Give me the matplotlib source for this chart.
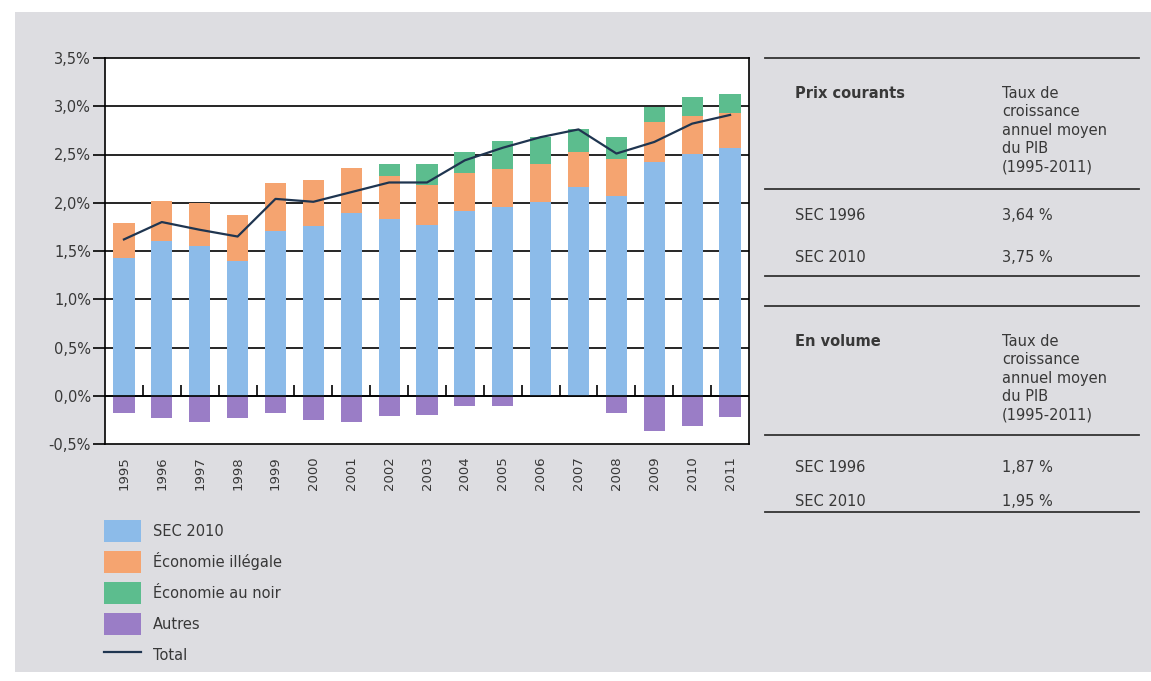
import matplotlib
matplotlib.use("Agg")
import matplotlib.pyplot as plt
from matplotlib.patches import Rectangle, Patch
from matplotlib.lines import Line2D
import numpy as np

plt.rcParams['font.family'] = ['DejaVu Sans']

# contributions to GDP growth, in %
years = [str(y) for y in range(1995, 2012)]
sec2010 = [1.43, 1.60, 1.55, 1.40, 1.71, 1.76, 1.89, 1.83, 1.77, 1.91, 1.96, 2.01, 2.16, 2.07, 2.42, 2.51, 2.57]
illegale = [0.36, 0.42, 0.45, 0.47, 0.49, 0.48, 0.47, 0.45, 0.41, 0.40, 0.39, 0.39, 0.37, 0.38, 0.42, 0.39, 0.36]
noir = [0.0, 0.0, 0.0, 0.0, 0.0, 0.0, 0.0, 0.12, 0.22, 0.22, 0.29, 0.28, 0.23, 0.23, 0.15, 0.20, 0.20]
autres = [-0.18, -0.23, -0.27, -0.23, -0.18, -0.25, -0.27, -0.21, -0.20, -0.11, -0.11, 0.0, 0.0, -0.18, -0.37, -0.31, -0.22]
total = [1.62, 1.80, 1.72, 1.65, 2.04, 2.01, 2.11, 2.21, 2.21, 2.44, 2.57, 2.68, 2.76, 2.51, 2.63, 2.82, 2.91]

legend_labels = ["SEC 2010", "Économie illégale", "Économie au noir", "Autres", "Total"]

# side table
table_prix = {"title": "Prix courants", "rows": [("SEC 1996", "3,64 %"), ("SEC 2010", "3,75 %")]}
table_vol = {"title": "En volume", "rows": [("SEC 1996", "1,87 %"), ("SEC 2010", "1,95 %")]}
col_header = "Taux de\ncroissance\nannuel moyen\ndu PIB\n(1995-2011)"

c_blue = "#8cbbe9"
c_orange = "#f5a470"
c_green = "#5cbd8e"
c_purple = "#9a7dc6"
c_line = "#1f3550"
c_text = "#383838"
c_bg = "#dddde1"
fs = 10.5

W, H = 1151, 681
fig = plt.figure(figsize=(W / 100, H / 100), dpi=100)
fig.patch.set_facecolor("white")

# background layer in pixel coordinates
bg = fig.add_axes([0, 0, 1, 1], zorder=0)
bg.set_xlim(0, W)
bg.set_ylim(H, 0)
bg.axis("off")
bg.add_patch(Rectangle((15, 12), W - 15, 660, facecolor=c_bg, edgecolor="none"))

# main chart
ax = fig.add_axes([105 / W, 1 - 444 / H, 644 / W, 386 / H], zorder=1)
ax.set_facecolor("white")
x = np.arange(len(years))
bw = 0.56
sec = np.array(sec2010)
ill = np.array(illegale)
ax.bar(x, sec, bw, color=c_blue, zorder=2)
ax.bar(x, ill, bw, bottom=sec, color=c_orange, zorder=2)
ax.bar(x, noir, bw, bottom=sec + ill, color=c_green, zorder=2)
ax.bar(x, autres, bw, color=c_purple, zorder=2)
ax.plot(x, total, color=c_line, lw=1.6, zorder=3)

ax.set_xlim(-0.5, len(years) - 0.5)
ax.set_ylim(-0.5, 3.5)
yt = np.arange(-0.5, 3.51, 0.5)
ax.set_yticks(yt)
ax.set_yticklabels([("%.1f%%" % v).replace(".", ",") for v in yt], fontsize=fs, color=c_text)
ax.tick_params(axis="y", length=8.5, width=1.2, color="black", pad=1.5)
for v in yt[1:-1]:
    ax.axhline(v, color="black", lw=1.2, zorder=1)
ax.axhline(0, color="black", lw=1.2, zorder=2.5)
# small separators between years along the zero line
ax.vlines(x[:-1] + 0.5, 0, 0.11, color="black", lw=1.2, zorder=2.5)

ax.set_xticks(x)
ax.set_xticklabels(years, rotation=90, fontsize=9.5, color=c_text)
ax.tick_params(axis="x", length=0, pad=9)
for s in ax.spines.values():
    s.set_color("black")
    s.set_linewidth(1.2)

# legend
handles = [Patch(facecolor=c_blue), Patch(facecolor=c_orange), Patch(facecolor=c_green),
           Patch(facecolor=c_purple), Line2D([], [], color=c_line, lw=1.6)]
leg = fig.legend(handles, legend_labels, loc="upper left", bbox_to_anchor=(98 / W, 1 - 514 / H),
                 frameon=False, fontsize=fs, handlelength=2.57, handleheight=1.97,
                 labelspacing=0.6, handletextpad=0.77, borderaxespad=0)
for t in leg.get_texts():
    t.set_color(c_text)

# side table
def draw_table(tab, top, head_bottom, row_ys, bottom):
    bg.plot([765, 1139], [top, top], color="#333333", lw=1.3)
    bg.plot([765, 1139], [head_bottom, head_bottom], color="#333333", lw=1.3)
    bg.plot([765, 1139], [bottom, bottom], color="#333333", lw=1.3)
    bg.text(795, top + 36, tab["title"], fontsize=fs, fontweight="bold", color=c_text, va="center")
    bg.text(1002, top + 28, col_header, fontsize=fs, color=c_text, va="top", linespacing=1.29)
    for (lab, val), ry in zip(tab["rows"], row_ys):
        bg.text(795, ry, lab, fontsize=fs, color=c_text, va="center")
        bg.text(1002, ry, val, fontsize=fs, color=c_text, va="center")

draw_table(table_prix, 58, 189, [215, 258], 276)
draw_table(table_vol, 306, 435, [467, 502], 512)

fig.savefig("out.png", dpi=100, facecolor=fig.get_facecolor())
